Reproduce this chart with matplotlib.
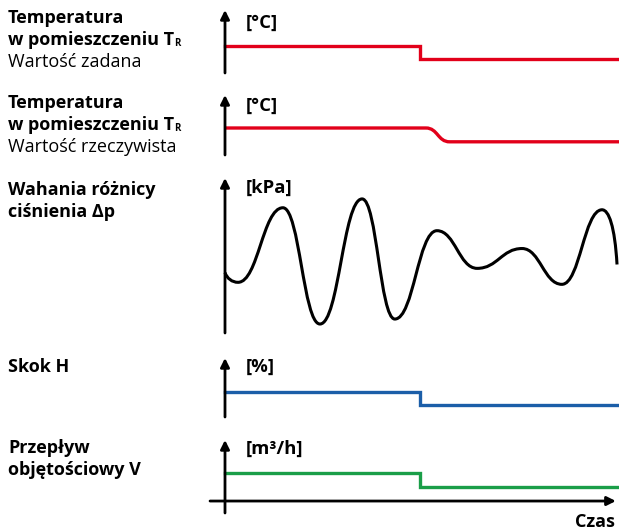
import matplotlib
matplotlib.use("Agg")
import matplotlib.pyplot as plt
from matplotlib.path import Path
from matplotlib.patches import PathPatch
from matplotlib.text import Annotation

# ---------------- data ----------------
time_max = 100
step_time = 49.5

setpoint_t = [0, step_time, time_max]
setpoint_v = [4.3, 2.2, 2.2]

actual_t = [0, 51.0, 57.0, time_max]
actual_v = [4.5, 4.5, 2.2, 2.2]

wave_t = [0, 3.3, 14.7, 24.1, 34.8, 43.1, 53.8, 64.0, 75.4, 85.5, 95.7, 99.5]
wave_v = [3.9, 3.27, 8.08, 0.58, 8.65, 0.9, 6.6, 4.17, 5.45, 3.14, 7.95, 4.42]

stroke_t = [0, step_time, time_max]
stroke_v = [4.24, 2.03, 2.03]

flow_t = [0, step_time, time_max]
flow_v = [3.84, 1.92, 1.92]

labels_bold = [
    ["Temperatura", "w pomieszczeniu T"],
    ["Temperatura", "w pomieszczeniu T"],
    ["Wahania różnicy", "ciśnienia Δp"],
    ["Skok H"],
    ["Przepływ", "objętościowy V"],
]
labels_regular = [["Wartość zadana"], ["Wartość rzeczywista"], [], [], []]
units = ["[°C]", "[°C]", "[kPa]", "[%]", "[m³/h]"]

RED = "#e2001a"
BLUE = "#1b5ea8"
GREEN = "#1a9e48"

W, H = 619, 532
fig = plt.figure(figsize=(W / 100, H / 100), dpi=100)
FONT = ["Open Sans", "DejaVu Sans"]
plt.rcParams["font.family"] = FONT
FS = 13
WB = "bold"


def px_axes(top, bottom, left=225, right=619):
    return fig.add_axes([left / W, 1 - bottom / H, (right - left) / W, (bottom - top) / H])


def setup(ax, ylim):
    ax.set_xlim(0, time_max)
    ax.set_ylim(*ylim)
    ax.axis("off")
    ax.annotate("", xy=(0, 1), xytext=(0, 0), xycoords="axes fraction",
                arrowprops=dict(arrowstyle="-|>", lw=2, color="black",
                                mutation_scale=13, shrinkA=0, shrinkB=0))


# panel geometry (top, bottom of arrow in px)
geo = [(10, 73), (95, 155), (178, 333), (358, 417), (440, 513)]
ylims = [(0, 10), (0, 10), (0, 10), (0, 10), (-1.64, 8.36)]
axes = []
for (top, bot), yl in zip(geo, ylims):
    ax = px_axes(top, bot)
    setup(ax, yl)
    axes.append(ax)

lw_c = 2.4
axes[0].plot(setpoint_t, setpoint_v, drawstyle="steps-post", color=RED, lw=lw_c,
             solid_joinstyle="miter", clip_on=False)

# smooth transition for actual temperature
mid = (actual_t[1] + actual_t[2]) / 2
a_verts = [(actual_t[0], actual_v[0]), (actual_t[1], actual_v[1]),
           (mid, actual_v[1]), (mid, actual_v[2]),
           (actual_t[2], actual_v[2]), (actual_t[3], actual_v[3])]
a_codes = [Path.MOVETO, Path.LINETO, Path.CURVE4, Path.CURVE4, Path.CURVE4, Path.LINETO]
axes[1].add_patch(PathPatch(Path(a_verts, a_codes), fill=False, edgecolor=RED, lw=lw_c,
                            clip_on=False))

# wave: cubic Beziers with horizontal tangents at extrema
verts = [(wave_t[0], wave_v[0])]
codes = [Path.MOVETO]
n = len(wave_t)
for i in range(n - 1):
    x0, y0 = wave_t[i], wave_v[i]
    x1, y1 = wave_t[i + 1], wave_v[i + 1]
    dx = x1 - x0
    if i == 0:
        c1 = (x0 + 0.15 * dx, y0 - 0.6 * (y0 - y1))
    else:
        c1 = (x0 + 0.45 * dx, y0)
    if i == n - 2:
        c2 = (x1 - 0.15 * dx, y1 + 0.7 * (y0 - y1))
    else:
        c2 = (x1 - 0.45 * dx, y1)
    verts += [c1, c2, (x1, y1)]
    codes += [Path.CURVE4] * 3
axes[2].add_patch(PathPatch(Path(verts, codes), fill=False, edgecolor="black", lw=2.2,
                            clip_on=False, capstyle="butt"))

axes[3].plot(stroke_t, stroke_v, drawstyle="steps-post", color=BLUE, lw=lw_c,
             solid_joinstyle="miter", clip_on=False)
axes[4].plot(flow_t, flow_v, drawstyle="steps-post", color=GREEN, lw=lw_c,
             solid_joinstyle="miter", clip_on=False)

# time axis
axes[4].annotate("", xy=(99.2, 0), xytext=(-3.8, 0), xycoords="data",
                 arrowprops=dict(arrowstyle="-|>", lw=2, color="black",
                                 mutation_scale=13, shrinkA=0, shrinkB=0),
                 annotation_clip=False)
fig.text(615 / W, 1 - 522 / H, "Czas", ha="right", va="center", fontsize=FS,
         fontweight=WB)

# unit labels
unit_y = [23, 106, 188, 367, 449]
for u, y in zip(units, unit_y):
    fig.text(246 / W, 1 - y / H, u, ha="left", va="center", fontsize=FS + 0.3,
             fontweight=WB)

# left labels
label_y0 = [18, 103, 190, 367, 448]
dy = 22
for i in range(5):
    y = label_y0[i]
    for line in labels_bold[i]:
        t = fig.text(8 / W, 1 - y / H, line, ha="left", va="center", fontsize=FS,
                     fontweight=WB)
        if line.endswith(" T"):
            fig.add_artist(Annotation(
                "R", xy=(1, 0.22), xycoords=t, xytext=(0.0, -1.0),
                textcoords="offset points", fontsize=7, fontweight="bold",
                ha="left", va="baseline"))
        y += dy
    for line in labels_regular[i]:
        fig.text(8 / W, 1 - y / H, line, ha="left", va="center", fontsize=FS)
        y += dy

fig.savefig("out.png", dpi=100)
